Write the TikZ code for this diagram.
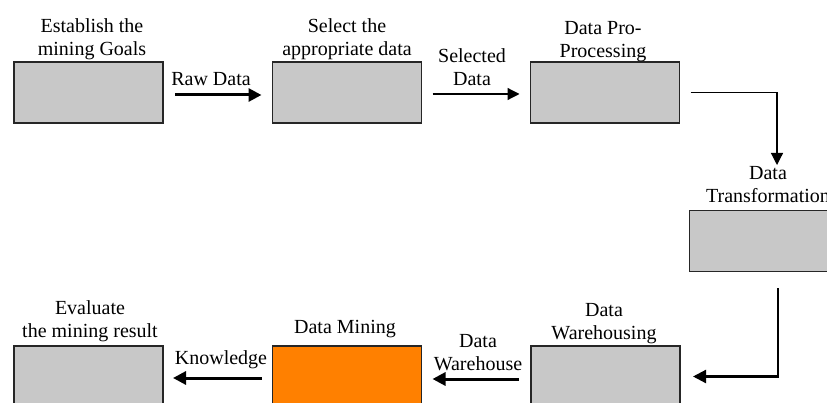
\documentclass[tikz,border=0pt]{standalone}
\usepackage{fontspec}
\setmainfont{Liberation Serif}
\usetikzlibrary{arrows.meta}
\definecolor{boxgray}{RGB}{200,200,200}
\definecolor{minorange}{RGB}{255,128,0}
\begin{document}
\begin{tikzpicture}[x=1pt,y=-1pt,
  box/.style={draw=black!85,line width=1.4pt,fill=boxgray,minimum width=149pt,minimum height=61pt,inner sep=0pt,outer sep=0pt},
  lbl/.style={inner sep=0pt,align=center,font=\fontsize{20}{23}\selectfont},
  thickarr/.style={line width=3pt,-{Triangle[length=13pt,width=13pt]}},
  medarr/.style={line width=2.2pt,-{Triangle[length=13pt,width=13pt]}},
  thinarr/.style={line width=1.2pt,-{Triangle[length=12pt,width=12pt]}}]
\useasboundingbox (0,0) rectangle (827,403);
\fill[white] (0,0) rectangle (827,403);
% boxes
\node[box] (b1) at (88.5,92.5) {};
\node[box] (b2) at (347,92.5) {};
\node[box] (b3) at (605,92.5) {};
\node[box] (b4) at (764,241) {};
\node[box] (b5) at (88.5,376.5) {};
\node[box,fill=minorange] (b6) at (347,376.5) {};
\node[box] (b7) at (605.5,376.5) {};
% labels
\node[lbl] (t1) at (92,39.5) {Establish the\\mining Goals};
\node[lbl] (t2) at (347,39.5) {Select the\\appropriate data};
\node[lbl] (t3) at (603,41.5) {Data Pro-\\Processing};
\node[lbl] (t4) at (768,185) {Data\\Transformation};
\node[lbl] (t5) at (90,321) {Evaluate\\the mining result};
\node[lbl] (t6) at (345,329) {Data Mining};
\node[lbl] (t7) at (604,324) {Data\\Warehousing};
\node[lbl] (a1) at (211,79) {Raw Data};
\node[lbl] (a2) at (472,67.5) {Selected\\Data};
\node[lbl] (a3) at (478,352.5) {Data\\Warehouse};
\node[lbl] (a4) at (221,360) {Knowledge};
% connectors
\coordinate (k1) at (777,165);
\draw[thickarr,shorten <=12pt,shorten >=11pt] ([yshift=-2.5pt]b1.east) -- ([yshift=-2.5pt]b2.west);
\draw[thinarr,shorten <=11pt,shorten >=11pt] ([yshift=-1.5pt]b2.east) -- ([yshift=-1.5pt]b3.west);
\draw[thinarr,shorten <=11pt] (b3.east) -| (k1);
\draw[medarr,shorten <=17pt,shorten >=13pt] ([xshift=14pt]b4.south) |- (b7.east);
\draw[thickarr,shorten <=12pt,shorten >=11pt] ([yshift=-2.5pt]b7.west) -- ([yshift=-2.5pt]b6.east);
\draw[thickarr,shorten <=11pt,shorten >=10pt] ([yshift=-1.5pt]b6.west) -- ([yshift=-1.5pt]b5.east);
\end{tikzpicture}
\end{document}
